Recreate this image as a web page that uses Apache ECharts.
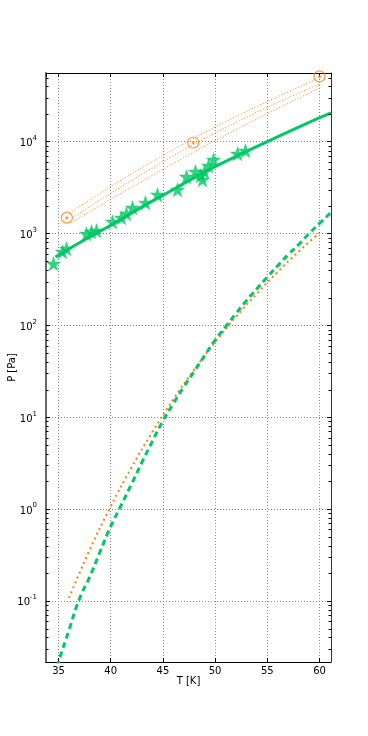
<!DOCTYPE html>
<html><head><meta charset="utf-8">
<script src="https://cdn.jsdelivr.net/npm/echarts@6/dist/echarts.min.js"></script>
<style>html,body{margin:0;padding:0;background:#fff}#c{width:368px;height:736px}</style>
</head><body><div id="c"></div>
<script>
// axis ranges and ticks
const X_MIN = 33.8, X_MAX = 61.1, Y_MIN = 0.0216, Y_MAX = 56000;
const xTickLabels = [35, 40, 45, 50, 55, 60];
const yTickExponents = [-1, 0, 1, 2, 3, 4];
const minorMantissas = [2, 3, 4, 5, 6, 7, 8, 9];
const minorDecades = [-2, -1, 0, 1, 2, 3, 4];

// measured points (stars)
const starT = [34.52, 35.38, 35.77, 37.68, 38.16, 38.64, 40.17, 41.03, 41.51, 42.09, 43.33, 44.48, 46.40, 47.26, 48.12, 48.60, 48.79, 48.98, 49.37, 49.85, 52.15, 52.91];
const starP = [469, 634, 683, 995, 1047, 1074, 1346, 1487, 1644, 1911, 2166, 2649, 3001, 4155, 4712, 4262, 3855, 4712, 5480, 6370, 7397, 7980];

// open circles
const circleT = [35.8, 47.9, 60.0];
const circleP = [1490, 9800, 51400];

// green solid fit
const fitT = [34.7, 37, 40, 43, 46, 49, 52, 55, 58, 61.1];
const fitP = [555, 794, 1230, 1950, 3020, 4680, 6920, 10000, 14450, 20560];

// green dashed curve
const dashT = [34.9, 35, 36, 37, 38, 39, 40, 41, 42, 43, 44, 45, 46, 47, 48, 49, 50, 51, 52, 53, 54, 55, 56, 57, 58, 59, 60, 61.1];
const dashP = [0.019, 0.0216, 0.048, 0.105, 0.184, 0.348, 0.646, 1.10, 1.88, 3.24, 5.50, 9.12, 14.1, 21.4, 31.6, 46.8, 69.2, 96.6, 135, 186, 251, 336, 447, 589, 759, 1000, 1288, 1700];

// orange dotted lower curve
const dotT = [36, 38, 40, 42, 44, 46, 48, 50, 52, 54, 56, 58, 60];
const dotP = [0.108, 0.361, 1.07, 2.84, 6.93, 15.7, 33.0, 65.6, 124, 222, 383, 637, 1020];

// orange dotted upper band lines
const upT = [36.05, 47.7, 59.8];
const upP = [1671, 10520, 48190];
const midT = [36.37, 48.6, 60.1];
const midP = [1486, 10260, 42850];
const lowT = [36.22, 49.08, 60.1];
const lowP = [1312, 9036, 38730];

const GREEN = '#00c864';
const ORANGE = '#ff7f0e';
const FONT = 'DejaVu Sans';

const zip = (a, b) => a.map((v, i) => [v, b[i]]);
const minorVals = [];
minorDecades.forEach(e => minorMantissas.forEach(m => {
  const v = m * Math.pow(10, e);
  if (v > Y_MIN && v < Y_MAX) minorVals.push(v);
}));

const STAR = 'path://M50,0 L61.2,34.5 L97.6,34.5 L68.2,55.9 L79.4,90.5 L50,69.1 L20.6,90.5 L31.8,55.9 L2.4,34.5 L38.8,34.5 Z';

const yLabelFmt = v => {
  const e = Math.log10(v), r = Math.round(e);
  if (Math.abs(e - r) > 1e-6 || yTickExponents.indexOf(r) < 0) return '';
  return '{b|10}{s|' + r + '}';
};
const xLabelFmt = v => (xTickLabels.indexOf(Math.round(v * 1000) / 1000) >= 0 ? String(v) : '');

const gridLine = { show: true, lineStyle: { color: '#888', width: 1, type: [1, 2] } };
const bandStyle = { color: ORANGE, width: 1, type: [1.2, 1.8], opacity: 0.85 };

const option = {
  animation: false,
  backgroundColor: '#fff',
  grid: { left: 46, right: 37, top: 73, bottom: 74, containLabel: false, outerBoundsMode: 'none' },
  xAxis: [{
    type: 'value', min: X_MIN, max: X_MAX, splitNumber: 5,
    name: 'T [K]', nameLocation: 'middle', nameGap: 14, nameMoveOverlap: false,
    nameTextStyle: { fontFamily: FONT, fontSize: 10, color: '#000' },
    axisLine: { lineStyle: { color: '#000', width: 1 } },
    axisTick: { inside: true, length: 4, lineStyle: { color: '#000' } },
    axisLabel: { formatter: xLabelFmt, fontFamily: FONT, fontSize: 10, color: '#000', margin: 4, showMinLabel: false, showMaxLabel: false },
    splitLine: gridLine
  }, {
    type: 'value', min: X_MIN, max: X_MAX, splitNumber: 5, position: 'top',
    axisLine: { lineStyle: { color: '#000', width: 1 } },
    axisTick: { inside: true, length: 4, lineStyle: { color: '#000' } },
    axisLabel: { show: false }, splitLine: { show: false }
  }],
  yAxis: [{
    type: 'log', logBase: 10, min: Y_MIN, max: Y_MAX,
    name: 'P [Pa]', nameLocation: 'middle', nameGap: 29, nameMoveOverlap: false,
    nameTextStyle: { fontFamily: FONT, fontSize: 10, color: '#000' },
    axisLine: { lineStyle: { color: '#666', width: 2 } },
    axisTick: { inside: true, length: 4, lineStyle: { color: '#000' } },
    axisLabel: {
      formatter: yLabelFmt, margin: 9, showMinLabel: false, showMaxLabel: false,
      rich: {
        b: { fontFamily: FONT, fontSize: 10, color: '#000', lineHeight: 14, verticalAlign: 'bottom' },
        s: { fontFamily: FONT, fontSize: 7, color: '#000', lineHeight: 14, verticalAlign: 'top' }
      }
    },
    splitLine: gridLine
  }, {
    type: 'log', logBase: 10, min: Y_MIN, max: Y_MAX, position: 'right',
    axisLine: { lineStyle: { color: '#333', width: 1 } },
    axisTick: { inside: true, length: 4, lineStyle: { color: '#000' } },
    axisLabel: { show: false }, splitLine: { show: false }
  }],
  series: [
    { type: 'line', data: zip(upT, upP), smooth: true, showSymbol: false, lineStyle: bandStyle, z: 2 },
    { type: 'line', data: zip(midT, midP), smooth: true, showSymbol: false, lineStyle: bandStyle, z: 2 },
    { type: 'line', data: zip(lowT, lowP), smooth: true, showSymbol: false, lineStyle: bandStyle, z: 2 },
    { type: 'line', data: zip(dotT, dotP), smooth: true, showSymbol: false, lineStyle: { color: ORANGE, width: 2, type: [2, 3.3] }, z: 3 },
    { type: 'line', data: zip(dashT, dashP), smooth: true, showSymbol: false, lineStyle: { color: GREEN, width: 3, type: [6, 4] }, z: 4 },
    { type: 'line', data: zip(fitT, fitP), smooth: true, showSymbol: false, lineStyle: { color: GREEN, width: 3 }, z: 4 },
    { type: 'scatter', data: zip(starT, starP), symbol: STAR, symbolSize: 14, itemStyle: { color: GREEN, borderColor: GREEN, borderWidth: 0.5 }, z: 5 },
    { type: 'scatter', data: zip(circleT, circleP), symbol: 'circle', symbolSize: 11, itemStyle: { color: 'rgba(0,0,0,0)', borderColor: ORANGE, borderWidth: 1.2 }, z: 6 },
    { type: 'scatter', data: zip(circleT, circleP), symbol: 'circle', symbolSize: 3, itemStyle: { color: ORANGE }, z: 6 },
    {
      type: 'custom', silent: true, z: 10,
      data: minorVals.map(v => [X_MIN, v]),
      renderItem: (params, api) => {
        const p = api.coord([api.value(0), api.value(1)]);
        const cs = params.coordSys;
        const y = Math.round(p[1]) + 0.5;
        return { type: 'group', children: [
          { type: 'line', shape: { x1: cs.x, y1: y, x2: cs.x + 2.5, y2: y }, style: { stroke: '#000', lineWidth: 1 } },
          { type: 'line', shape: { x1: cs.x + cs.width, y1: y, x2: cs.x + cs.width - 2.5, y2: y }, style: { stroke: '#000', lineWidth: 1 } }
        ] };
      }
    }
  ]
};
const chart = echarts.init(document.getElementById('c'), null, { renderer: 'canvas' });
chart.setOption(option);
</script>
</body></html>
